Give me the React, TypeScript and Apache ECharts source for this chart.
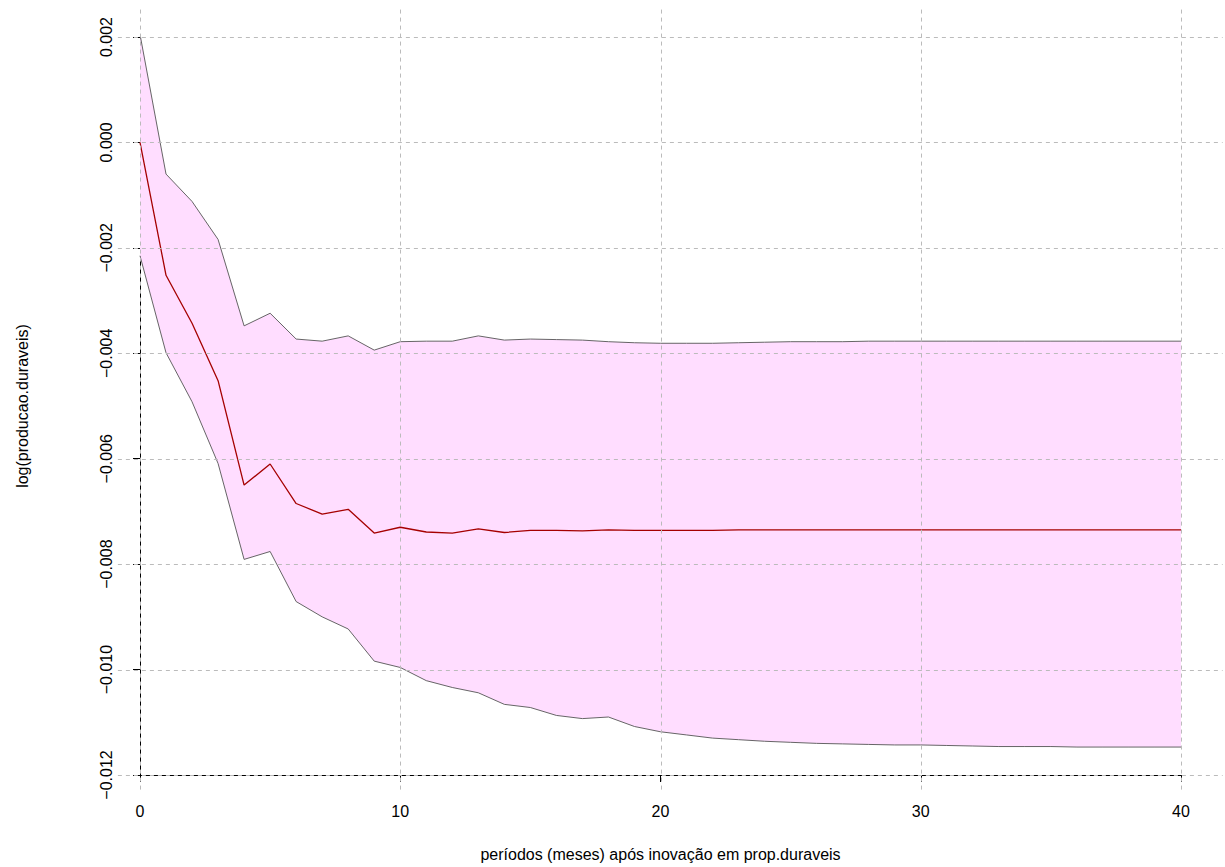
import React, { useEffect, useRef } from "react";
import * as echarts from "echarts";

const periods: number[] = Array.from({ length: 41 }, (_, i) => i);

const upperBand: number[] = [
  0.00205, -0.0006, -0.00112, -0.00184, -0.00348, -0.00324, -0.00373, -0.00377, -0.00367, -0.00394,
  -0.00378, -0.00377, -0.00377, -0.00367, -0.00375, -0.00373, -0.00374, -0.00375, -0.00378, -0.0038,
  -0.00381, -0.00381, -0.00381, -0.0038, -0.00379, -0.00378, -0.00378, -0.00378, -0.00377, -0.00377,
  -0.00377, -0.00377, -0.00377, -0.00377, -0.00377, -0.00377, -0.00377, -0.00377, -0.00377, -0.00377,
  -0.00377,
];

const response: number[] = [
  0.0, -0.00252, -0.00343, -0.00452, -0.0065, -0.0061, -0.00685, -0.00705, -0.00696, -0.00741,
  -0.0073, -0.00739, -0.00741, -0.00733, -0.0074, -0.00736, -0.00736, -0.00737, -0.00735, -0.00736,
  -0.00736, -0.00736, -0.00736, -0.00735, -0.00735, -0.00735, -0.00735, -0.00735, -0.00735, -0.00735,
  -0.00735, -0.00735, -0.00735, -0.00735, -0.00735, -0.00735, -0.00735, -0.00735, -0.00735, -0.00735,
  -0.00735,
];

const lowerBand: number[] = [
  -0.00215, -0.00399, -0.00492, -0.00609, -0.00791, -0.00776, -0.00871, -0.009, -0.00923, -0.00984,
  -0.00996, -0.01021, -0.01034, -0.01044, -0.01066, -0.01072, -0.01087, -0.01093, -0.0109, -0.01108,
  -0.01118, -0.01124, -0.0113, -0.01133, -0.01136, -0.01138, -0.0114, -0.01141, -0.01142, -0.01143,
  -0.01143, -0.01144, -0.01145, -0.01146, -0.01146, -0.01146, -0.01147, -0.01147, -0.01147, -0.01147,
  -0.01147,
];

const xTicks: number[] = [0, 10, 20, 30, 40];
const yTicks: number[] = [-0.012, -0.01, -0.008, -0.006, -0.004, -0.002, 0, 0.002];

const xTitle = "períodos (meses) após inovação em prop.duraveis";
const yTitle = "log(producao.duraveis)";

const FONT = "'Liberation Sans', Arial, Helvetica, sans-serif";

function fmtY(v: number): string {
  const r = Math.round(v * 1000) / 1000;
  return (r < 0 ? "\u2212" : "") + Math.abs(r).toFixed(3);
}

export default function App() {
  const ref = useRef<HTMLDivElement>(null);

  useEffect(() => {
    if (!ref.current) return;
    const chart = echarts.init(ref.current, null, { renderer: "svg" });
    const pairs = (arr: number[]) => arr.map((v, i) => [periods[i], v]);

    chart.setOption({
      animation: false,
      backgroundColor: "#ffffff",
      grid: { left: 140, right: 44, top: 37, bottom: 92, containLabel: false },
      xAxis: {
        type: "value",
        min: 0,
        max: 40,
        interval: 10,
        name: xTitle,
        nameLocation: "middle",
        nameGap: 71,
        nameTextStyle: { fontFamily: FONT, fontSize: 16, color: "#000" },
        axisLine: { show: true, onZero: false, lineStyle: { color: "#000", width: 1 } },
        axisTick: { show: true, inside: false, length: 7, lineStyle: { color: "#000" } },
        axisLabel: { fontFamily: FONT, fontSize: 16, color: "#000", margin: 28 },
        splitLine: { show: false },
      },
      yAxis: {
        type: "value",
        min: -0.012,
        max: 0.002,
        interval: 0.002,
        name: yTitle,
        nameLocation: "middle",
        nameRotate: 90,
        nameGap: 110,
        nameTextStyle: { fontFamily: FONT, fontSize: 16, color: "#000" },
        axisLine: { show: true, onZero: false, lineStyle: { color: "#000", width: 1 } },
        axisTick: { show: true, inside: false, length: 7, lineStyle: { color: "#000" } },
        axisLabel: {
          fontFamily: FONT,
          fontSize: 16,
          color: "#000",
          rotate: 90,
          margin: 26,
          formatter: (v: number) => fmtY(v),
        },
        splitLine: { show: false },
      },
      series: [
        {
          type: "custom",
          name: "band",
          data: [[0, 0]],
          clip: false,
          z: 1,
          renderItem: (params: any, api: any) => {
            if (params.dataIndex !== 0) return null;
            const up = upperBand.map((v, i) => api.coord([periods[i], v]));
            const lo = lowerBand.map((v, i) => api.coord([periods[i], v])).reverse();
            return {
              type: "polygon",
              shape: { points: up.concat(lo) },
              style: { fill: "#FFDDFF", stroke: "none" },
            };
          },
        },
        {
          type: "line",
          name: "upper",
          data: pairs(upperBand),
          showSymbol: false,
          symbol: "none",
          z: 3,
          lineStyle: { color: "#555555", width: 0.9 },
        },
        {
          type: "line",
          name: "lower",
          data: pairs(lowerBand),
          showSymbol: false,
          symbol: "none",
          z: 3,
          lineStyle: { color: "#555555", width: 0.9 },
        },
        {
          type: "line",
          name: "response",
          data: pairs(response),
          showSymbol: false,
          symbol: "none",
          z: 4,
          lineStyle: { color: "#A50000", width: 1.3 },
        },
      ],
    });

    // dashed reference grid drawn over the band, extended a little past the axes
    const gridStyle = { stroke: "#BBBBBB", lineWidth: 1, lineDash: [4, 4] };
    const graphics: any[] = [];
    const xLeft = -0.85;
    const xRight = 41.6;
    const yTop = 0.00252;
    const yBottom = -0.0123;
    yTicks.forEach((t) => {
      const a = chart.convertToPixel({ gridIndex: 0 }, [xLeft, t]) as number[];
      const b = chart.convertToPixel({ gridIndex: 0 }, [xRight, t]) as number[];
      graphics.push({
        type: "line",
        z: 10,
        silent: true,
        shape: { x1: a[0], y1: Math.round(a[1]) + 0.5, x2: b[0], y2: Math.round(b[1]) + 0.5 },
        style: gridStyle,
      });
    });
    xTicks.forEach((t) => {
      const a = chart.convertToPixel({ gridIndex: 0 }, [t, yTop]) as number[];
      const b = chart.convertToPixel({ gridIndex: 0 }, [t, yBottom]) as number[];
      graphics.push({
        type: "line",
        z: 10,
        silent: true,
        shape: { x1: Math.round(a[0]) + 0.5, y1: a[1], x2: Math.round(b[0]) + 0.5, y2: b[1] },
        style: gridStyle,
      });
    });
    chart.setOption({ graphic: graphics });

    return () => chart.dispose();
  }, []);

  return (
    <div
      ref={ref}
      style={{ position: "absolute", left: 0, top: 0, width: 1225, height: 867 }}
    />
  );
}
